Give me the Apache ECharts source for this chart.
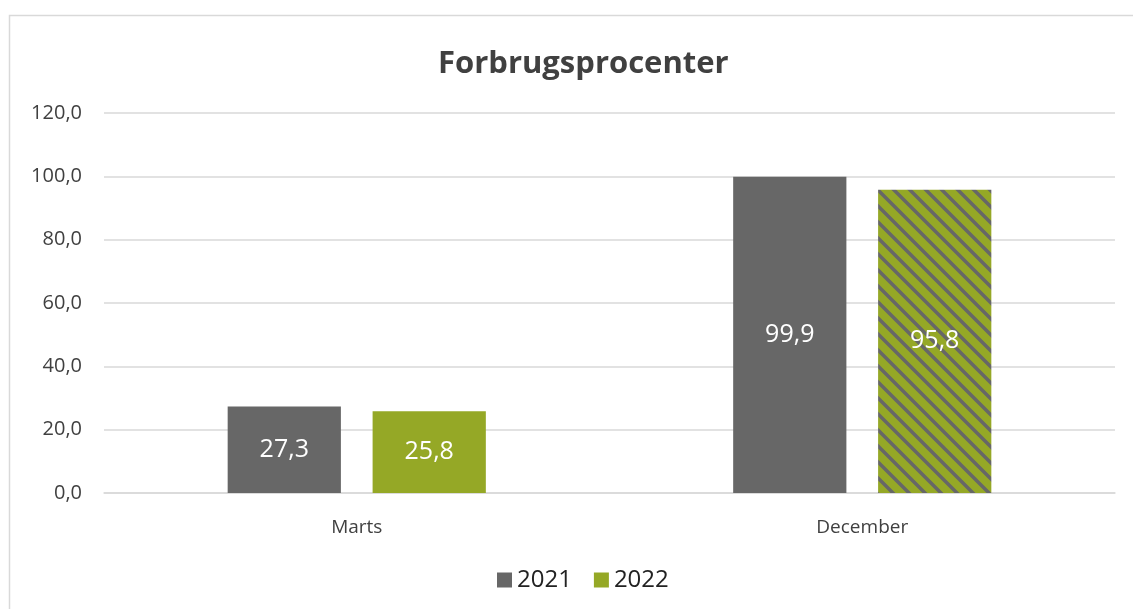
<!DOCTYPE html>
<html>
<head>
<meta charset="utf-8">
<script src="https://cdn.jsdelivr.net/npm/echarts@6/dist/echarts.min.js"></script>
<style>
  html, body { margin: 0; padding: 0; background: #fff; }
  #chart { width: 1133px; height: 609px; }
</style>
</head>
<body>
<div id="chart"></div>
<script>
const categories = ['Marts', 'December']
const values2021 = [27.3, 99.9]
const values2022 = [25.8, 95.8]
const seriesNames = ['2021', '2022']

const grey = '#676767'
const green = '#95a826'
const font = 'Open Sans'

// stribet mønster til december 2022
function stripePattern() {
  const size = 16
  const c = document.createElement('canvas')
  c.width = size
  c.height = size
  const ctx = c.getContext('2d')
  ctx.fillStyle = green
  ctx.fillRect(0, 0, size, size)
  ctx.strokeStyle = grey
  ctx.lineWidth = 3.5
  ctx.beginPath()
  ctx.moveTo(-4, -4); ctx.lineTo(size + 4, size + 4)
  ctx.moveTo(-4 - size, -4); ctx.lineTo(4, size + 4)
  ctx.moveTo(size - 4, -4); ctx.lineTo(2 * size + 4, size + 4)
  ctx.stroke()
  return { image: c, repeat: 'repeat' }
}

const fmt = v => v.toFixed(1).replace('.', ',')
const labelStyle = {
  show: true,
  position: 'inside',
  color: '#fff',
  fontSize: 25,
  fontFamily: font,
  formatter: p => fmt(p.value)
}

const chart = echarts.init(document.getElementById('chart'))
chart.setOption({
  animation: false,
  title: {
    text: 'Forbrugsprocenter',
    left: 433,
    top: 44,
    textStyle: { fontSize: 31, fontWeight: 'bold', color: '#404040', fontFamily: font }
  },
  graphic: [{
    type: 'rect',
    shape: { x: 9.5, y: 15.5, width: 1140, height: 620 },
    style: { fill: 'none', stroke: '#d9d9d9', lineWidth: 1.5 },
    silent: true
  }],
  legend: {
    bottom: 12,
    left: 492,
    itemWidth: 15,
    itemHeight: 15,
    itemGap: 22,
    icon: 'rect',
    textStyle: { fontSize: 24, color: '#222', fontFamily: font },
    data: seriesNames
  },
  grid: { left: 104, right: 18, top: 113, bottom: 116 },
  xAxis: {
    type: 'category',
    data: categories,
    axisTick: { show: false },
    axisLine: { lineStyle: { color: '#d9d9d9', width: 1.5 } },
    axisLabel: { fontSize: 19, color: '#404040', margin: 25, fontFamily: font }
  },
  yAxis: {
    type: 'value',
    min: 0,
    max: 120,
    interval: 20,
    axisLine: { show: false },
    axisTick: { show: false },
    splitLine: { lineStyle: { color: '#d9d9d9', width: 1.5 } },
    axisLabel: { fontSize: 20, color: '#404040', margin: 22, fontFamily: font, formatter: v => fmt(v) }
  },
  series: [{
    name: seriesNames[0],
    type: 'bar',
    barWidth: '22.4%',
    barGap: '28%',
    itemStyle: { color: grey },
    label: labelStyle,
    data: values2021
  }, {
    name: seriesNames[1],
    type: 'bar',
    barWidth: '22.4%',
    itemStyle: { color: green },
    label: labelStyle,
    data: values2022.map((v, i) => i === 1 ? { value: v, itemStyle: { color: stripePattern() } } : v)
  }]
})
</script>
</body>
</html>
